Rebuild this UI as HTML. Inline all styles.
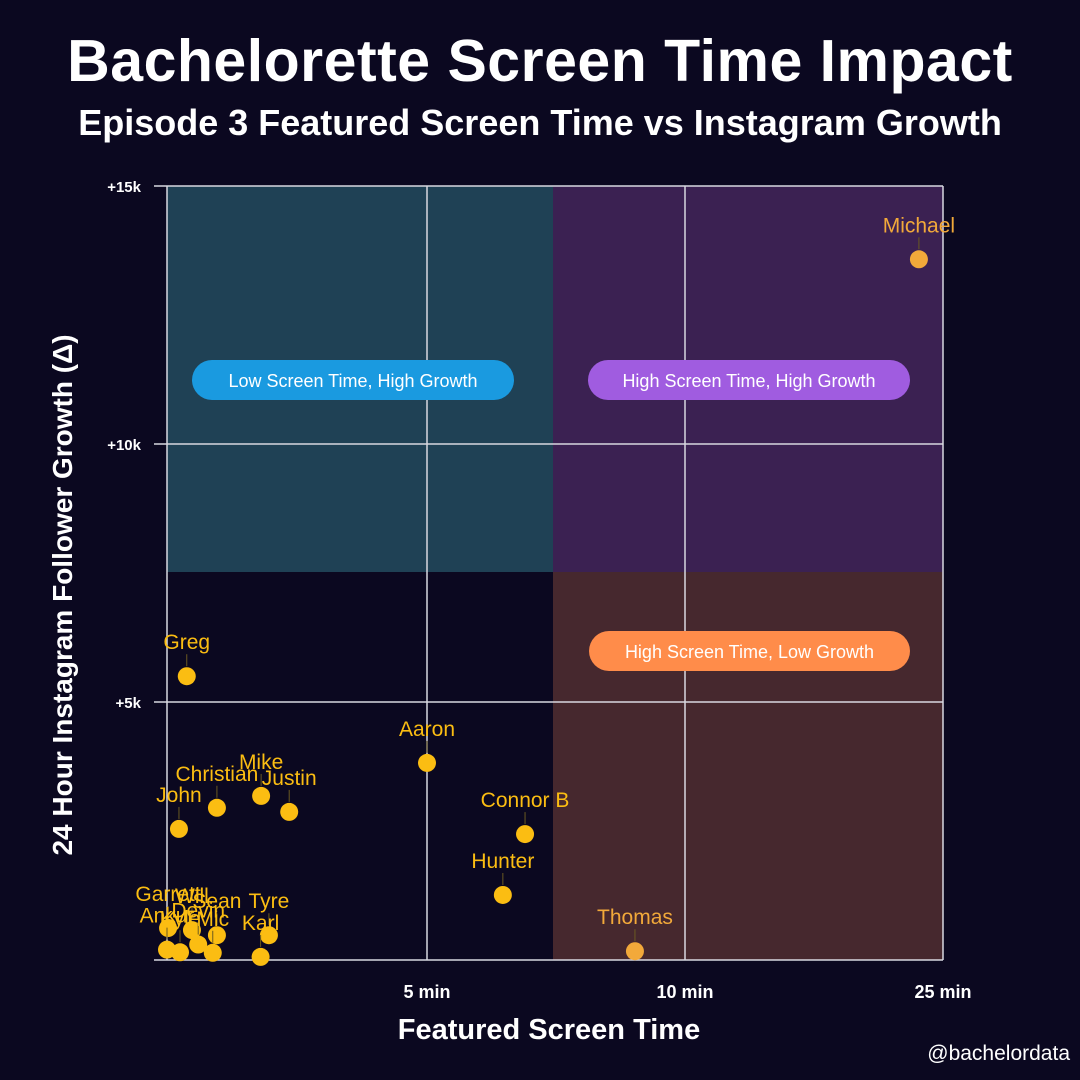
<!DOCTYPE html>
<html><head><meta charset="utf-8"><style>
html,body{margin:0;padding:0;background:#0b0820;}
#wrap{position:relative;width:1080px;height:1080px;background:#0b0820;font-family:"Liberation Sans",sans-serif;color:#fff;overflow:hidden}
.t{position:absolute;left:0;width:1080px;text-align:center;font-weight:bold}
</style></head><body>
<div id="wrap">
<div class="t" style="top:27px;font-size:59px;letter-spacing:0.5px">Bachelorette Screen Time Impact</div>
<div class="t" style="top:102px;font-size:36px">Episode 3 Featured Screen Time vs Instagram Growth</div>
<svg id="plot" width="1080" height="1080" style="position:absolute;left:0;top:0"></svg>
<div style="position:absolute;right:10px;top:1042px;font-size:21px">@bachelordata</div>
</div>
<script>
const names = ["Michael","Greg","Aaron","Connor B","Hunter","Thomas","Mike","Justin","Christian","John","Garrett","Will","Sean","Tyre","Ankur","Kyle","Devin","Mic","Karl"];
const minutes = [23.6,0.38,5.0,6.9,6.47,9.03,1.81,2.35,0.96,0.23,0.02,0.48,0.96,1.96,0.0,0.25,0.6,0.88,1.8];
const growth = [13.58,5.5,3.82,2.44,1.26,0.17,3.18,2.87,2.95,2.54,0.62,0.58,0.48,0.48,0.2,0.15,0.3,0.14,0.06];
const xTicks = [5,10,25];
const xTickLabels = ["5 min","10 min","25 min"];
const yTicks = [5,10,15];
const yTickLabels = ["+5k","+10k","+15k"];
const xBreaks=[0,5,10,25], xPix=[167,427,685,943];
function X(v){for(let i=0;i<xBreaks.length-1;i++){if(v<=xBreaks[i+1]||i===xBreaks.length-2){return xPix[i]+(v-xBreaks[i])/(xBreaks[i+1]-xBreaks[i])*(xPix[i+1]-xPix[i]);}}}
function Y(v){return 960-v*51.6;}
const NS="http://www.w3.org/2000/svg";
const svg=document.getElementById('plot');
function mk(tag,attrs,parent){const e=document.createElementNS(NS,tag);for(const k in attrs)e.setAttribute(k,attrs[k]);(parent||svg).appendChild(e);return e;}
// quadrants
const q1=mk('rect',{x:167,y:186,width:386,height:386,fill:'#1f4155'});


const q2=mk('rect',{x:553,y:186,width:390,height:386,fill:'#3b2152'});


const q3=mk('rect',{x:553,y:572,width:390,height:388,fill:'#46282e'});


// grid
for(let i=0;i<xTicks.length;i++){
  const x=X(xTicks[i]);
  const g=mk('line',{x1:x,y1:186,x2:x,y2:960,stroke:'#d8d8e0','stroke-width':1.5});
  
  
  const t=mk('text',{x:x,y:998,'text-anchor':'middle','font-size':18,'font-weight':'bold',fill:'#fff'});
  t.textContent=xTickLabels[i];
  
  
}
for(let i=0;i<yTicks.length;i++){
  const y=Y(yTicks[i]);
  const g=mk('line',{x1:154,y1:y,x2:943,y2:y,stroke:'#d8d8e0','stroke-width':1.5});
  
  
  const t=mk('text',{x:141,y:y+6,'text-anchor':'end','font-size':15,'font-weight':'bold',fill:'#fff'});
  t.textContent=yTickLabels[i];
  
  
}
const ax0=mk('line',{x1:167,y1:186,x2:167,y2:960,stroke:'#d8d8e0','stroke-width':1.5});


const ax1=mk('line',{x1:154,y1:960,x2:943,y2:960,stroke:'#d8d8e0','stroke-width':1.5});


// labels + points
for(let i=0;i<names.length;i++){
  const cx=X(minutes[i]),cy=Y(growth[i]);
  const col=(minutes[i]>7.5)?'#f2a93a':'#fbbd12';
  const ln=mk('line',{x1:cx,y1:cy-10,x2:cx,y2:cy-22,stroke:'#6b5a20','stroke-width':1});
  
  
  const c=mk('circle',{cx:cx,cy:cy,r:9,fill:col});
  
  
  const t=mk('text',{x:cx,y:cy-27,'text-anchor':'middle','font-size':21,fill:col,'font-family':'Liberation Sans, sans-serif'});
  t.textContent=names[i];
  
  
}
// badges
const badges=[[192,360,322,'#1a9ae0','Low Screen Time, High Growth'],[588,360,322,'#a05ce0','High Screen Time, High Growth'],[589,631,321,'#ff8c4a','High Screen Time, Low Growth']];
badges.forEach(b=>{
  const r=mk('rect',{x:b[0],y:b[1],width:b[2],height:40,rx:20,fill:b[3]});
  
  
  const t=mk('text',{x:b[0]+b[2]/2,y:b[1]+27,'text-anchor':'middle','font-size':18,fill:'#fff'});
  t.textContent=b[4];
  
  
});
const xt=mk('text',{x:549,y:1039,'text-anchor':'middle','font-size':29,'font-weight':'bold',fill:'#fff'});
xt.textContent='Featured Screen Time';


const yt=mk('text',{x:0,y:0,'text-anchor':'middle','font-size':28,'font-weight':'bold',fill:'#fff',transform:'translate(72,595) rotate(-90)'});
yt.textContent='24 Hour Instagram Follower Growth (Δ)';


</script>
</body></html>
